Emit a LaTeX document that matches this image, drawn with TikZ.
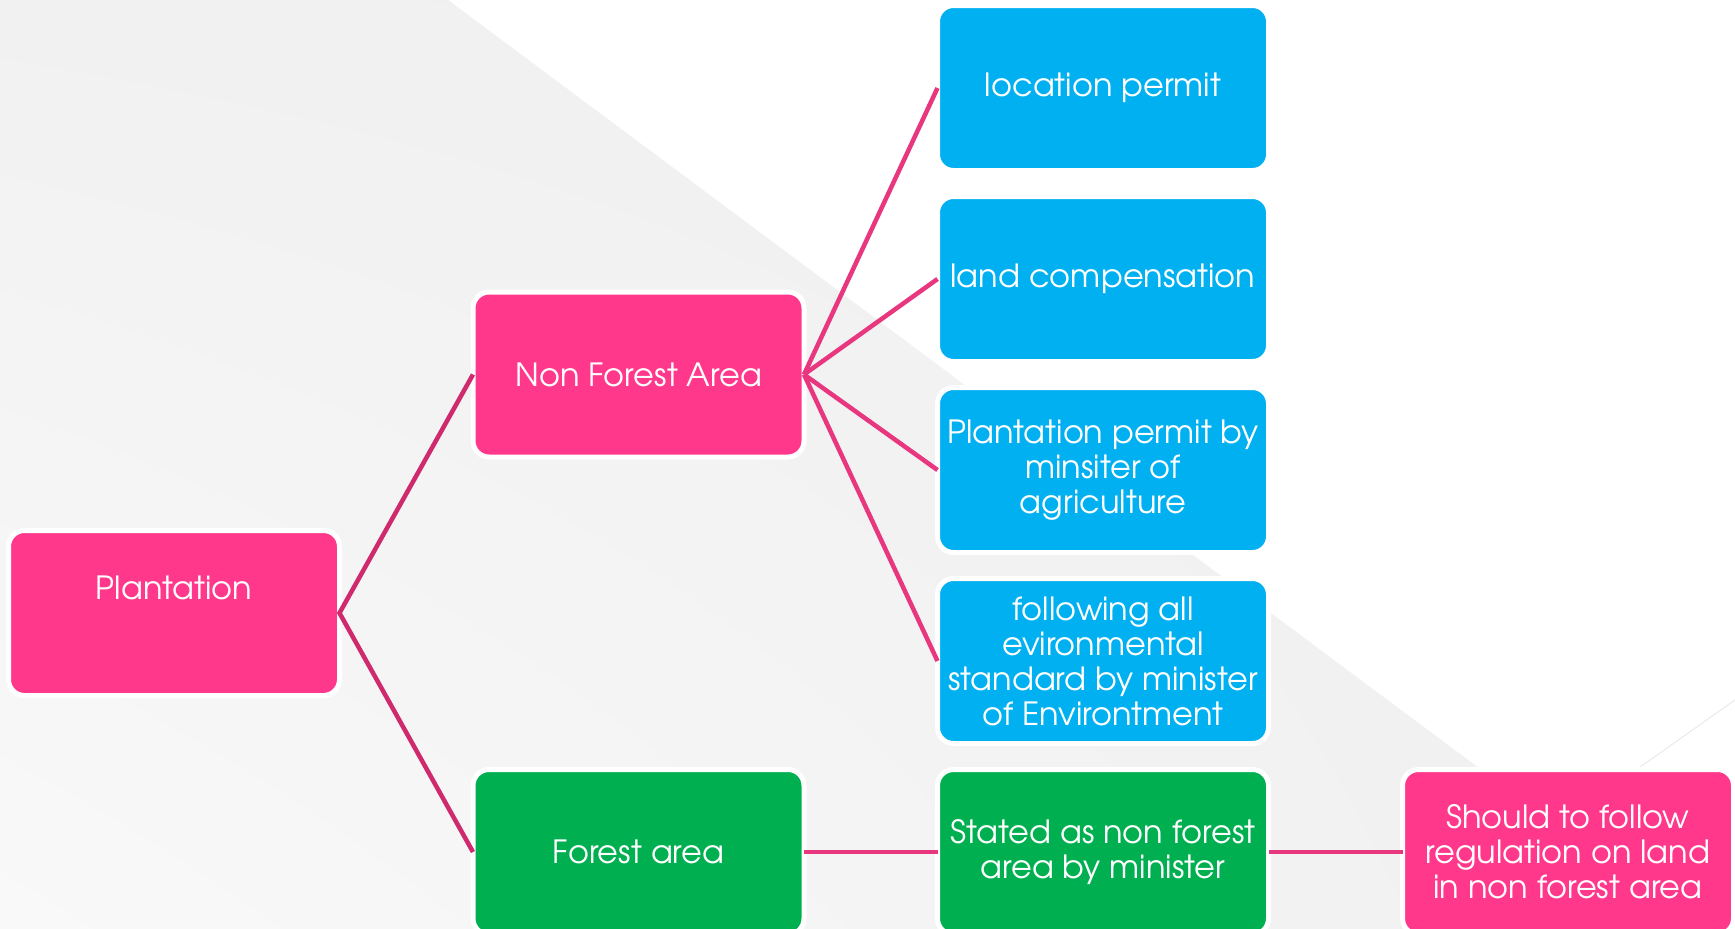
\documentclass[tikz,border=0pt]{standalone}
\usepackage{fontspec}
\usetikzlibrary{shadings}
\IfFontExistsTF{TeX Gyre Adventor}{\setmainfont{TeX Gyre Adventor}}{\setmainfont{Poppins}}
\definecolor{boxpink}{HTML}{FF388C}
\definecolor{boxblue}{HTML}{00B0F0}
\definecolor{boxgreen}{HTML}{00B050}
\definecolor{linkdark}{HTML}{CF2A6E}
\definecolor{linkpink}{HTML}{E8367F}
\definecolor{bgul}{HTML}{F1F1F1}
\definecolor{bgur}{HTML}{EFEFEF}
\definecolor{bgll}{HTML}{F9F9F9}
\definecolor{bglr}{HTML}{F0F0F0}
\definecolor{faint}{HTML}{EBEBEB}
\begin{document}
\begin{tikzpicture}[x=1pt,y=-1pt,
  box/.style={rounded corners=16pt, draw=white, line width=5pt,
    minimum width=331pt, minimum height=165pt, outer sep=0pt, inner sep=0pt,
    text=white, align=center, font=\fontsize{32}{35}\selectfont},
  pinkbox/.style={box, fill=boxpink},
  bluebox/.style={box, fill=boxblue},
  greenbox/.style={box, fill=boxgreen},
  lbl/.style={text=white, align=center, font=\fontsize{32}{35}\selectfont},
  darklink/.style={draw=linkdark, line width=4.5pt},
  pinklink/.style={draw=linkpink, line width=4.5pt}]
\useasboundingbox (0,0) rectangle (1735,929);
\clip (0,0) rectangle (1735,929);
% background
\fill[white] (0,0) rectangle (1735,929);
\shade[upper left=bgul, upper right=bgur, lower left=bgll, lower right=bglr]
  (0,0) -- (448,0) -- (1695,929) -- (0,929) -- cycle;
\draw[line width=1pt, faint] (1735,700) -- (1633,772);
% nodes
\node[pinkbox] (plant) at (174,613) {};
\node[lbl] (plantlbl) at (174,588) {Plantation};
\node[pinkbox] (nfa) at (638.5,374.5) {Non Forest Area};
\node[bluebox] (b1) at (1103,88) {location permit};
\node[bluebox] (b2) at (1103,279) {land compensation};
\node[bluebox] (b3) at (1103,470) {Plantation permit by\\minsiter of\\agriculture};
\node[bluebox] (b4) at (1103,661) {following all\\evironmental\\standard by minister\\of Environtment};
\node[greenbox] (fa) at (638.5,852) {Forest area};
\node[greenbox] (st) at (1103,852) {Stated as non forest\\area by minister};
\node[pinkbox] (sh) at (1568,852) {Should to follow\\regulation on land\\in non forest area};
% connectors
\draw[darklink] (nfa.west) -- (plant.east) -- (fa.west);
\draw[pinklink] (nfa.east) -- (b1.west);
\draw[pinklink] (nfa.east) -- (b2.west);
\draw[pinklink] (nfa.east) -- (b3.west);
\draw[pinklink] (nfa.east) -- (b4.west);
\draw[pinklink] (fa.east) -- (st.west);
\draw[pinklink] (st.east) -- (sh.west);
\end{tikzpicture}
\end{document}
